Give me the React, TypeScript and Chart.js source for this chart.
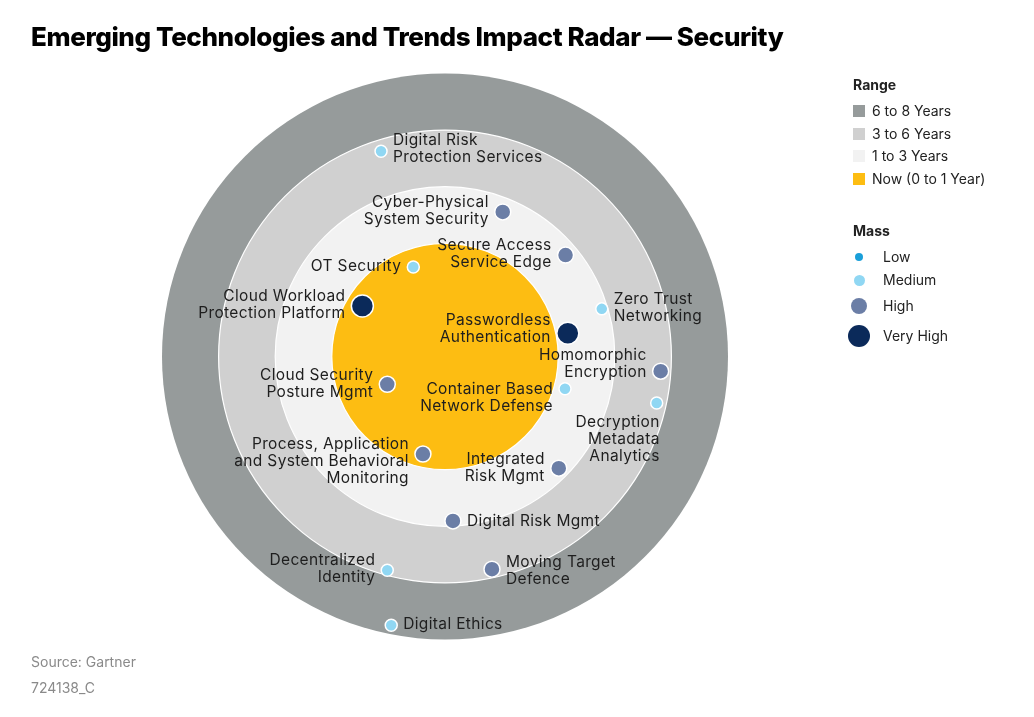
import React, { useEffect, useRef } from "react";
import { Chart, registerables } from "chart.js";

Chart.register(...registerables);

// ---------- data ----------
const technologies = [
  "Digital Risk\nProtection Services",
  "Cyber-Physical\nSystem Security",
  "Secure Access\nService Edge",
  "OT Security",
  "Cloud Workload\nProtection Platform",
  "Zero Trust\nNetworking",
  "Passwordless\nAuthentication",
  "Homomorphic\nEncryption",
  "Cloud Security\nPosture Mgmt",
  "Container Based\nNetwork Defense",
  "Decryption\nMetadata\nAnalytics",
  "Process, Application\nand System Behavioral\nMonitoring",
  "Integrated\nRisk Mgmt",
  "Digital Risk Mgmt",
  "Decentralized\nIdentity",
  "Moving Target\nDefence",
  "Digital Ethics",
];
const xPos = [-1.13, 1.02, 2.13, -0.56, -1.46, 2.77, 2.17, 3.81, -1.02, 2.12, 3.74, -0.39, 2.01, 0.14, -1.02, 0.83, -0.95];
const yPos = [3.62, 2.55, 1.79, 1.58, 0.89, 0.84, 0.41, -0.26, -0.49, -0.57, -0.82, -1.72, -1.97, -2.9, -3.77, -3.75, -4.74];
const mass = ["Medium", "High", "High", "Medium", "Very High", "Medium", "Very High", "High", "High", "Medium", "Medium", "High", "High", "High", "Medium", "High", "Medium"];

const rangeLabels = ["6 to 8 Years", "3 to 6 Years", "1 to 3 Years", "Now (0 to 1 Year)"];
const ringRadii = [5, 4, 3, 2];
const massLevels = ["Low", "Medium", "High", "Very High"];

// ---------- styles ----------
const ringColors = ["#969b9b", "#d0d0d0", "#f2f2f2", "#fdbd12"];
const massColors: Record<string, string> = {
  Low: "#1a9fd9",
  Medium: "#90d7f3",
  High: "#6b7ea6",
  "Very High": "#0b2a5a",
};
const massRadius: Record<string, number> = { Low: 4, Medium: 6, High: 8, "Very High": 11 };
const legendRadius: Record<string, number> = { Low: 4, Medium: 5.5, High: 8, "Very High": 11 };

// label placement: side (l = left, r = right, b = below) and vertical shift in px
const labelSide = ["r", "l", "l", "l", "l", "r", "l", "l", "l", "l", "b", "l", "l", "r", "l", "r", "r"];
const labelDy = [-2, -1, -1.5, -1, -1.5, -1.5, -4.5, -7.5, 0, 9.5, 0, 7, 0, 0, -1.5, 1.5, -1];

const FONT = "Inter, 'Noto Sans', sans-serif";

const ringsPlugin = {
  id: "rings",
  beforeDatasetsDraw(chart: any) {
    const { ctx, scales } = chart;
    const xs = scales.x;
    const ys = scales.y;
    const cx = xs.getPixelForValue(0);
    const cy = ys.getPixelForValue(0);
    ctx.save();
    ringRadii.forEach((r, i) => {
      const rp = xs.getPixelForValue(r) - cx;
      ctx.beginPath();
      ctx.arc(cx, cy, rp, 0, Math.PI * 2);
      ctx.fillStyle = ringColors[i];
      ctx.fill();
      if (i > 0) {
        ctx.lineWidth = 1.2;
        ctx.strokeStyle = "#ffffff";
        ctx.stroke();
      }
    });
    ctx.restore();
  },
};

const labelsPlugin = {
  id: "pointLabels",
  afterDatasetsDraw(chart: any) {
    const { ctx } = chart;
    const meta = chart.getDatasetMeta(0);
    ctx.save();
    ctx.font = `15.5px ${FONT}`;
    (ctx as any).letterSpacing = "0.35px";
    ctx.fillStyle = "#1e1e1e";
    ctx.textBaseline = "middle";
    const lh = 17;
    meta.data.forEach((pt: any, i: number) => {
      const lines = technologies[i].split("\n");
      const r = massRadius[mass[i]];
      const side = labelSide[i];
      let x = pt.x;
      let y0: number;
      if (side === "b") {
        ctx.textAlign = "right";
        x = pt.x + 3;
        y0 = pt.y + r + 13 + labelDy[i];
      } else {
        ctx.textAlign = side === "l" ? "right" : "left";
        x = side === "l" ? pt.x - r - 6 : pt.x + r + 6;
        y0 = pt.y + labelDy[i] - ((lines.length - 1) * lh) / 2;
      }
      lines.forEach((ln, k) => ctx.fillText(ln, x, y0 + k * lh));
    });
    ctx.restore();
  },
};

export default function App() {
  const canvasRef = useRef<HTMLCanvasElement | null>(null);

  useEffect(() => {
    if (!canvasRef.current) return;
    const chart = new Chart(canvasRef.current, {
      type: "scatter",
      data: {
        datasets: [
          {
            label: "Technologies",
            data: technologies.map((_, i) => ({ x: xPos[i], y: yPos[i] })),
            pointRadius: mass.map((m) => massRadius[m]),
            pointHoverRadius: mass.map((m) => massRadius[m]),
            pointBackgroundColor: mass.map((m) => massColors[m]),
            pointBorderColor: "#ffffff",
            pointBorderWidth: 1.5,
          },
        ],
      },
      options: {
        responsive: false,
        animation: false,
        events: [],
        layout: { padding: { left: 162, right: 306, top: 73, bottom: 77 } },
        scales: {
          x: { type: "linear", min: -5, max: 5, display: false },
          y: { type: "linear", min: -5, max: 5, display: false },
        },
        plugins: {
          legend: { display: false },
          tooltip: { enabled: false },
          title: { display: false },
        },
      },
      plugins: [ringsPlugin, labelsPlugin],
    });
    return () => chart.destroy();
  }, []);

  const legendText: React.CSSProperties = {
    position: "absolute",
    fontFamily: FONT,
    fontSize: 14,
    color: "#222",
    lineHeight: "18px",
    whiteSpace: "nowrap",
  };

  return (
    <div style={{ position: "fixed", left: 0, top: 0, width: 1034, height: 717, background: "#fff" }}>
      <canvas ref={canvasRef} width={1034} height={717} style={{ position: "absolute", left: 0, top: 0 }} />
      <div
        style={{
          position: "absolute",
          left: 31,
          top: 21,
          fontFamily: FONT,
          fontWeight: 800,
          fontSize: 26,
          letterSpacing: -0.4,
          color: "#000",
          lineHeight: "32px",
          whiteSpace: "nowrap",
        }}
      >
        Emerging Technologies and Trends Impact Radar — Security
      </div>

      <div style={{ ...legendText, left: 853, top: 76, fontWeight: 700 }}>Range</div>
      {rangeLabels.map((lab, i) => {
        const cy = 111 + i * 22.7;
        return (
          <React.Fragment key={lab}>
            <div style={{ position: "absolute", left: 853, top: cy - 6, width: 12, height: 12, background: ringColors[i] }} />
            <div style={{ ...legendText, left: 872, top: cy - 9 }}>{lab}</div>
          </React.Fragment>
        );
      })}

      <div style={{ ...legendText, left: 853, top: 222, fontWeight: 700 }}>Mass</div>
      {massLevels.map((m, i) => {
        const cy = [257, 280, 306, 336][i];
        const r = legendRadius[m];
        return (
          <React.Fragment key={m}>
            <div
              style={{
                position: "absolute",
                left: 859 - r,
                top: cy - r,
                width: 2 * r,
                height: 2 * r,
                borderRadius: "50%",
                background: massColors[m],
              }}
            />
            <div style={{ ...legendText, left: 883, top: cy - 9 }}>{m}</div>
          </React.Fragment>
        );
      })}

      <div style={{ ...legendText, left: 31, top: 653, color: "#8a8a8a", fontSize: 14 }}>Source: Gartner</div>
      <div style={{ ...legendText, left: 31, top: 679, color: "#8a8a8a", fontSize: 14 }}>724138_C</div>
    </div>
  );
}
